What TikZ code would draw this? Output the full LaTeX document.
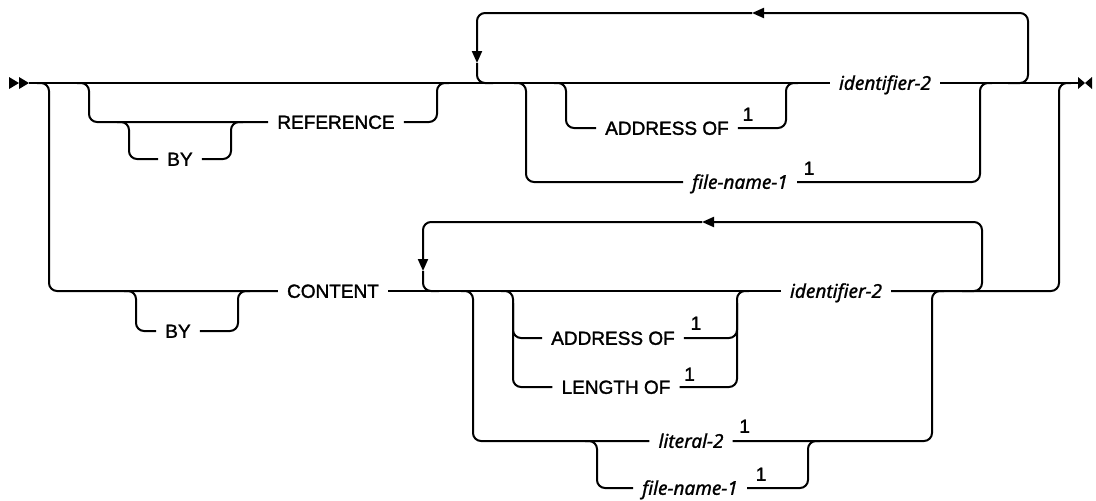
\documentclass[tikz,border=0pt]{standalone}
\usepackage{fontspec}
\setmainfont{Liberation Sans}[UprightFeatures={FakeBold=1.6}]
\newfontfamily\varfont{Noto Sans}[ItalicFeatures={FakeBold=1.2}]
\usetikzlibrary{positioning,arrows.meta,calc}
\tikzset{
  rail/.style = {line width=2pt, rounded corners=8pt},
  back/.style = {rail, -{Triangle[length=12pt,width=10pt]}},
  kw/.style   = {inner xsep=9pt, inner ysep=0pt, text height=13.6pt, text depth=0pt,
                 font=\fontsize{19}{21}\selectfont},
  var/.style  = {kw, font=\fontsize{19}{21}\selectfont\varfont\itshape},
  fn/.style   = {inner sep=0pt, text height=13.6pt, text depth=0pt,
                 font=\fontsize{19}{21}\selectfont},
}

\begin{document}
\begin{tikzpicture}[x=1pt,y=-1pt]
\useasboundingbox (0,0) rectangle (1096,501);

% junctions on the rails
\coordinate (start) at (29,83);
\coordinate (stop)  at (1078,83);
\coordinate (a1) at (49,83);   \coordinate (a2) at (89,83);
\coordinate (a3) at (437,83);  \coordinate (l1) at (477,83);
\coordinate (a4) at (526,83);  \coordinate (a5) at (566,83);
\coordinate (a6) at (786,83);  \coordinate (a7) at (980,83);
\coordinate (l1r) at (1028,83); \coordinate (a8) at (1059,83);
\coordinate (b1) at (129,122); \coordinate (b2) at (231,122);
\coordinate (c1) at (136,291); \coordinate (c2) at (238,291);
\coordinate (l2) at (423,291); \coordinate (c3) at (473,291);
\coordinate (c4) at (513,291); \coordinate (c5) at (737,291);
\coordinate (c6) at (932,291); \coordinate (l2r) at (982,291);
\coordinate (d1) at (597,441); \coordinate (d2) at (808,441);
\coordinate (t1) at (752,13);  \coordinate (t2) at (702,222);

% words
\node[kw]  (ref)     at (336,122) {REFERENCE};
\node[kw]  (by1)     at (180,159) {BY};
\node[var] (idtop)   at (885,83)  {identifier-2};
\node[kw]  (addr1)   at (667,128) {ADDRESS OF};
\node[var] (file1)   at (740,182) {file-name-1};
\node[kw]  (content) at (333,291) {CONTENT};
\node[kw]  (by2)     at (178,331) {BY};
\node[var] (idbot)   at (836,291) {identifier-2};
\node[kw]  (addr2)   at (613,338) {ADDRESS OF};
\node[kw]  (len)     at (616,387) {LENGTH OF};
\node[var] (lit)     at (691,441) {literal-2};
\node[var] (file2)   at (690,488) {file-name-1};

% footnote marks
\node[fn] (n1) at ($(addr1.east)+(10,-14)$) {1};
\node[fn] (n2) at ($(file1.east)+(12,-14)$) {1};
\node[fn] (n3) at ($(addr2.east)+(12,-15)$) {1};
\node[fn] (n4) at ($(len.east)+(10,-13)$)   {1};
\node[fn] (n5) at ($(lit.east)+(12,-15)$)   {1};
\node[fn] (n6) at ($(file2.east)+(14,-14)$) {1};

% start and end marks
\fill (9,77) -- (19,83) -- (9,89) -- cycle;
\fill (19,77) -- (29,83) -- (19,89) -- cycle;
\fill (1078,77) -- (1085,83) -- (1078,89) -- cycle;
\fill (1092,77) -- (1085,83) -- (1092,89) -- cycle;

% main line
\draw[rail] (start) -- (idtop.west);
\draw[rail] (idtop.east) -- (stop);

% REFERENCE, optional BY
\draw[rail] ($(a2)+(-12,0)$) -- (a2) |- (ref.west);
\draw[rail] (ref.east) -| (a3) -- ++(12,0);
\draw[rail] ($(b1)+(-12,0)$) -- (b1) |- (by1.west);
\draw[rail] (by1.east) -| (b2) -- ++(12,0);

% repeat loop, top
\draw[back] ($(l1r)+(-20,0)$) -- (l1r) |- (t1);
\draw[back] (t1) -| ($(l1)+(0,-20)$);
\draw[rail] ($(l1)+(0,-20)$) -- (l1) -- ++(16,0);

\draw[rail] ($(a5)+(-12,0)$) -- (a5) |- (addr1.west);
\draw[rail] (addr1.east) -| (a6) -- ++(12,0);
\draw[rail] ($(a4)+(-12,0)$) -- (a4) |- (file1.west);
\draw[rail] (file1.east) -| (a7) -- ++(12,0);

% CONTENT, optional BY
\draw[rail] ($(a1)+(-12,0)$) -- (a1) |- (content.west);
\draw[rail] ($(c1)+(-12,0)$) -- (c1) |- (by2.west);
\draw[rail] (by2.east) -| (c2) -- ++(12,0);
\draw[rail] (content.east) -- (idbot.west);
\draw[rail] (idbot.east) -| (a8) -- ++(12,0);

% repeat loop, bottom
\draw[back] ($(l2r)+(-20,0)$) -- (l2r) |- (t2);
\draw[back] (t2) -| ($(l2)+(0,-20)$);
\draw[rail] ($(l2)+(0,-20)$) -- (l2) -- ++(16,0);

\draw[rail] ($(c4)+(-12,0)$) -- (c4) |- (addr2.west);
\draw[rail] ($(c4)+(0,12)$) |- (len.west);
\draw[rail] (addr2.east) -| (c5) -- ++(12,0);
\draw[rail] (len.east) -| ($(c5)+(0,12)$);

\draw[rail] ($(c3)+(-12,0)$) -- (c3) |- (lit.west);
\draw[rail] (lit.east) -| (c6) -- ++(12,0);
\draw[rail] ($(d1)+(-12,0)$) -- (d1) |- (file2.west);
\draw[rail] (file2.east) -| (d2) -- ++(12,0);

\end{tikzpicture}
\end{document}
